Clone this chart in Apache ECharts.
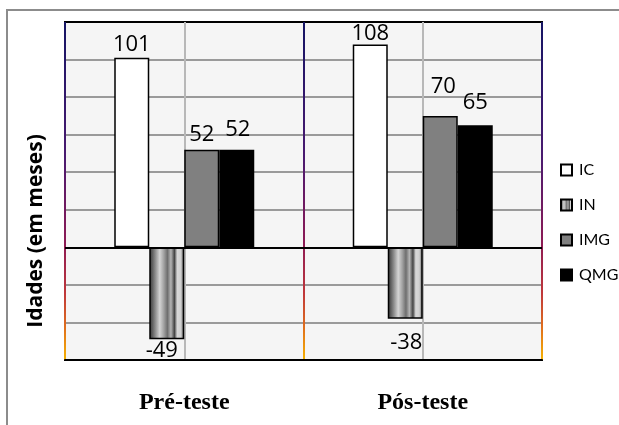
<!DOCTYPE html>
<html>
<head>
<meta charset="utf-8">
<script src="https://cdn.jsdelivr.net/npm/echarts@6/dist/echarts.min.js"></script>
<style>
  html, body { margin: 0; padding: 0; background: #fff; }
  #chart { width: 619px; height: 425px; }
</style>
</head>
<body>
<div id="chart"></div>
<script>
// Categories and series values (ages in months)
const categories = ['Pré-teste', 'Pós-teste'];
const seriesNames = ['IC', 'IN', 'IMG', 'QMG'];
const icValues = [101, 108];
const inValues = [-49, -38];
const imgValues = [52, 70];
const qmgValues = [52, 65];

// Value axis range
const yMin = -60;
const yMax = 120;
const yStep = 20;

// Small label nudges so neighbouring value labels do not collide
const labelNudges = {
  IC: [[0, 2], [0, 4]],
  IN: [[-5, -4], [1, 9]],
  IMG: [[0, 0], [3, -14]],
  QMG: [[1, -5], [0, -8]]
};

const chart = echarts.init(document.getElementById('chart'), null, { renderer: 'canvas' });

const stripeFill = new echarts.graphic.LinearGradient(0, 0, 1, 0, [
  { offset: 0.00, color: '#3a3a3a' },
  { offset: 0.08, color: '#5a5a5a' },
  { offset: 0.18, color: '#909090' },
  { offset: 0.30, color: '#d4d4d4' },
  { offset: 0.42, color: '#a0a0a0' },
  { offset: 0.52, color: '#6e6e6e' },
  { offset: 0.62, color: '#b4b4b4' },
  { offset: 0.72, color: '#444444' },
  { offset: 0.80, color: '#d8d8d8' },
  { offset: 0.90, color: '#d0d0d0' },
  { offset: 1.00, color: '#5a5a5a' }
]);

const edgeLine = new echarts.graphic.LinearGradient(0, 0, 0, 1, [
  { offset: 0.00, color: '#141464' },
  { offset: 0.40, color: '#4a1a70' },
  { offset: 0.65, color: '#8c1a55' },
  { offset: 0.80, color: '#c0383a' },
  { offset: 0.90, color: '#e0701c' },
  { offset: 1.00, color: '#f8b800' }
]);

const valueFont = { fontFamily: 'Open Sans', fontSize: 22, color: '#000' };

function makeData(name, values) {
  return values.map((v, i) => ({
    value: v,
    label: { offset: labelNudges[name][i] }
  }));
}

function barSeries(name, values, fill, pos) {
  return {
    name: name,
    type: 'bar',
    xAxisIndex: 0,
    yAxisIndex: 0,
    barWidth: 35,
    barGap: '0%',
    data: makeData(name, values),
    itemStyle: { color: fill, borderColor: '#000', borderWidth: 1.5 },
    label: Object.assign({ show: true, position: pos, distance: 4 }, valueFont),
    emphasis: { disabled: true },
    z: 3
  };
}

const series = [
  barSeries('IC', icValues, '#ffffff', 'top'),
  barSeries('IN', inValues, stripeFill, 'bottom'),
  barSeries('IMG', imgValues, '#808080', 'top'),
  barSeries('QMG', qmgValues, '#000000', 'top')
];

// zero baseline across the plot
series[0].markLine = {
  silent: true,
  symbol: ['none', 'none'],
  label: { show: false },
  lineStyle: { color: '#000', width: 2, type: 'solid' },
  data: [{ yAxis: 0 }],
  animation: false
};

const option = {
  animation: false,
  backgroundColor: '#ffffff',
  graphic: [{
    type: 'rect',
    shape: { x: 7, y: 10, width: 700, height: 500 },
    style: { fill: 'none', stroke: '#8c8c8c', lineWidth: 2 },
    silent: true,
    z: -10
  }],
  grid: {
    left: 65, right: 77, top: 22, bottom: 65,
    show: true,
    backgroundColor: '#f5f5f5',
    borderColor: '#000',
    borderWidth: 2,
    containLabel: false,
    outerBoundsMode: 'none'
  },
  legend: {
    orient: 'vertical',
    left: 555,
    top: 157,
    itemWidth: 11,
    itemHeight: 11,
    itemGap: 19,
    icon: 'rect',
    data: seriesNames,
    textStyle: { fontFamily: 'Lato', fontSize: 16, color: '#000', padding: [0, 0, 0, 2] },
    selectedMode: false
  },
  xAxis: [{
    type: 'category',
    data: categories,
    position: 'bottom',
    axisLine: { onZero: false, lineStyle: { color: '#000', width: 2 } },
    axisTick: { show: false },
    splitLine: { show: false },
    axisLabel: {
      margin: 31,
      fontFamily: 'Liberation Serif',
      fontWeight: 'bold',
      fontSize: 24,
      color: '#000'
    }
  }, {
    // vertical guide lines: group edges and group centres
    type: 'value',
    position: 'top',
    min: 0,
    max: 4,
    interval: 1,
    axisLine: { show: false },
    axisTick: { show: false },
    axisLabel: { show: false },
    splitLine: {
      show: true,
      showMinLine: true,
      showMaxLine: true,
      lineStyle: { color: [edgeLine, '#b8b8b8'], width: 2 }
    }
  }],
  yAxis: {
    type: 'value',
    min: yMin,
    max: yMax,
    interval: yStep,
    name: 'Idades (em meses)',
    nameLocation: 'middle',
    nameGap: 18,
    nameTextStyle: {
      fontFamily: 'Open Sans',
      fontWeight: 'bold',
      fontSize: 21,
      color: '#000',
      padding: [0, 80, 0, 0]
    },
    axisLine: { show: false },
    axisTick: { show: false },
    axisLabel: { show: false },
    splitLine: {
      show: true,
      showMinLine: false,
      showMaxLine: false,
      lineStyle: { color: '#9a9a9a', width: 2 }
    }
  },
  series: series
};

chart.setOption(option);
</script>
</body>
</html>
